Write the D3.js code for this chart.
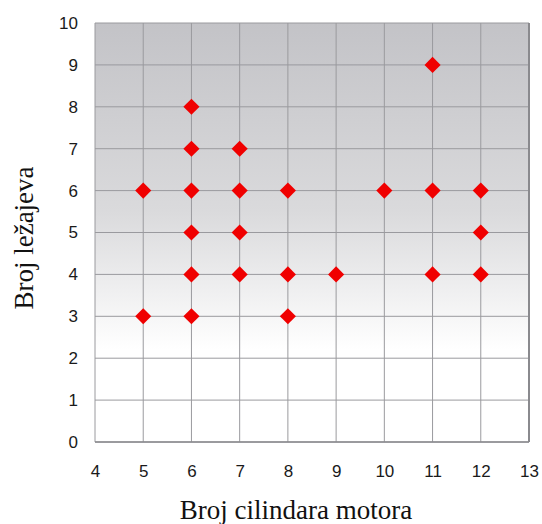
<!DOCTYPE html>
<html>
<head>
<meta charset="utf-8">
<script src="https://cdn.jsdelivr.net/npm/d3@7"></script>
<style>
  html, body { margin: 0; padding: 0; background: #fff; }
  svg { display: block; }
  .title { font-family: "Liberation Serif", "DejaVu Serif", "Times New Roman", serif; }
  .tick text { font-family: "Liberation Sans", Arial, Helvetica, sans-serif; }
</style>
</head>
<body>
<div id="chart"></div>
<script>
// Engine cylinders vs. bearings scatter
const cylinders = [5, 5, 6, 6, 6, 6, 6, 6, 7, 7, 7, 7, 8, 8, 8, 9, 10, 11, 11, 11, 12, 12, 12];
const bearings  = [6, 3, 8, 7, 6, 5, 4, 3, 7, 6, 5, 4, 6, 4, 3, 4, 6, 9, 6, 4, 6, 5, 4];
const xTicks = [4, 5, 6, 7, 8, 9, 10, 11, 12, 13];
const yTicks = [0, 1, 2, 3, 4, 5, 6, 7, 8, 9, 10];
const xTitle = 'Broj cilindara motora';
const yTitle = 'Broj ležajeva';

const W = 542, H = 524;
const M = { top: 23, right: 13, bottom: 82, left: 95 };
const innerW = W - M.left - M.right;
const innerH = H - M.top - M.bottom;

const x = d3.scaleLinear().domain([4, 13]).range([0, innerW]);
const y = d3.scaleLinear().domain([0, 10]).range([innerH, 0]);

const svg = d3.select('#chart').append('svg')
  .attr('width', W)
  .attr('height', H);

const defs = svg.append('defs');
const grad = defs.append('linearGradient')
  .attr('id', 'bg')
  .attr('x1', 0).attr('y1', 0).attr('x2', 0).attr('y2', 1);
grad.append('stop').attr('offset', '0%').attr('stop-color', '#c3c3c7');
grad.append('stop').attr('offset', '45%').attr('stop-color', '#dadadc');
grad.append('stop').attr('offset', '78%').attr('stop-color', '#ffffff');
grad.append('stop').attr('offset', '100%').attr('stop-color', '#ffffff');

const g = svg.append('g').attr('transform', `translate(${M.left},${M.top})`);

g.append('rect')
  .attr('width', innerW)
  .attr('height', innerH)
  .attr('fill', 'url(#bg)');

// grid
g.selectAll('.vgrid')
  .data(xTicks)
  .join('line')
  .attr('class', 'vgrid')
  .attr('x1', d => x(d)).attr('x2', d => x(d))
  .attr('y1', 0).attr('y2', innerH)
  .attr('stroke', '#9a9a9e')
  .attr('stroke-width', 1);

g.selectAll('.hgrid')
  .data(yTicks)
  .join('line')
  .attr('class', 'hgrid')
  .attr('x1', 0).attr('x2', innerW)
  .attr('y1', d => y(d)).attr('y2', d => y(d))
  .attr('stroke', '#9a9a9e')
  .attr('stroke-width', 1);

// frame
g.append('line')
  .attr('x1', innerW).attr('x2', innerW)
  .attr('y1', 0).attr('y2', innerH)
  .attr('stroke', '#8a8a8e').attr('stroke-width', 2);
g.append('line')
  .attr('x1', 0).attr('x2', innerW)
  .attr('y1', innerH).attr('y2', innerH)
  .attr('stroke', '#8a8a8e').attr('stroke-width', 1.5);

// tick labels
const yAxis = d3.axisLeft(y).tickValues(yTicks).tickSize(0).tickPadding(17);
g.append('g').call(yAxis)
  .attr('font-family', null)
  .attr('font-size', 17)
  .call(a => a.select('.domain').remove())
  .selectAll('text')
  .attr('fill', '#1a1a1a');

const xAxis = d3.axisBottom(x).tickValues(xTicks).tickSize(0).tickPadding(23);
g.append('g').attr('transform', `translate(0,${innerH})`).call(xAxis)
  .attr('font-family', null)
  .attr('font-size', 17)
  .call(a => a.select('.domain').remove())
  .selectAll('text')
  .attr('fill', '#1a1a1a');

// points
const diamond = d3.symbol().type(d3.symbolSquare).size(130);
g.selectAll('.pt')
  .data(cylinders.map((c, i) => ({ c, b: bearings[i] })))
  .join('path')
  .attr('class', 'pt')
  .attr('d', diamond)
  .attr('transform', d => `translate(${x(d.c)},${y(d.b)}) rotate(45)`)
  .attr('fill', '#f00000');

// axis titles
svg.append('text')
  .attr('class', 'title')
  .attr('x', 296)
  .attr('y', 519)
  .attr('text-anchor', 'middle')
  .attr('font-size', 27)
  .attr('fill', '#111')
  .text(xTitle);

svg.append('text')
  .attr('class', 'title')
  .attr('transform', `translate(33,238) rotate(-90)`)
  .attr('text-anchor', 'middle')
  .attr('font-size', 27)
  .attr('fill', '#111')
  .text(yTitle);
</script>
</body>
</html>
